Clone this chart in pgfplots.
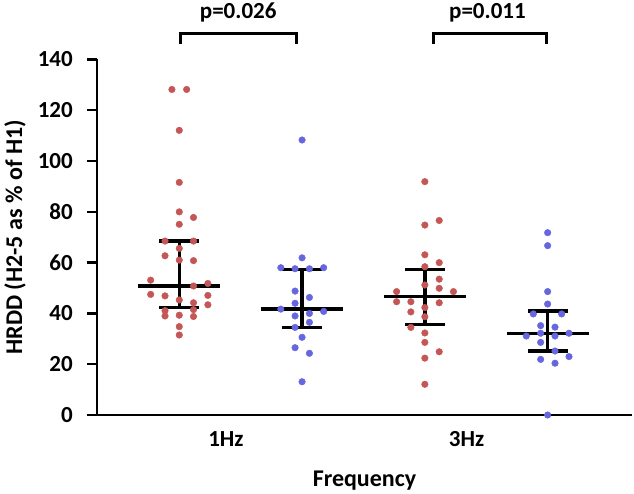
\documentclass[border=0pt]{standalone}
\usepackage{pgfplots}
\pgfplotsset{compat=1.18}
\usepackage{fontspec}
\setmainfont{Carlito}
\definecolor{cred}{RGB}{196,86,86}
\definecolor{cblue}{RGB}{102,102,222}
\newcommand{\tlf}{\fontsize{23}{23}\selectfont\bfseries}
\begin{document}
\begin{tikzpicture}
\begin{axis}[name=ax,
  scale only axis, width=535pt, height=355.5pt,
  xmin=-0.67, xmax=3.687, ymin=0, ymax=140,
  axis x line*=bottom, axis y line*=left,
  axis line style={line width=2.6pt, -},
  clip=false,
  ytick={0,20,...,140}, yticklabels={,,,,,,,},
  xtick={0.38,2.34}, xticklabels={,},
  x tick style={draw=none},
  y tick style={line width=2.4pt, black},
  tick align=outside, major tick length=10pt,
  label style={font=\fontsize{24}{24}\selectfont\bfseries},
  xlabel={Frequency}, ylabel={HRDD (H2-5 as \% of H1)},
  x label style={at={(rel axis cs:0.5,0)}, anchor=center, yshift=-66pt},
  y label style={at={(rel axis cs:0,0.5)}, anchor=center, yshift=82pt},
]
% Red 1Hz
\addplot[only marks, mark=*, mark size=3.3pt, mark options={draw=cred, fill=cred}] coordinates {
(-0.06,128.2) (0.06,128.2) (0,112.1) (0,91.6) (0,80.0) (0.116,77.8) (0,75.1)
(-0.116,68.5) (0.116,68.5) (0,65.6) (-0.116,62.7) (0,61.0) (0.116,60.8)
(-0.233,53.1) (0.233,51.8) (0.116,50.8) (-0.233,47.5) (-0.116,46.9) (0.233,47.1)
(0,45.3) (0.116,44.2) (0.233,43.4) (-0.116,41.1) (0.116,41.5) (-0.116,39.0)
(0,39.3) (0.116,38.8) (0,34.8) (0,31.5)
};
% Blue 1Hz
\addplot[only marks, mark=*, mark size=3.3pt, mark options={draw=cblue, fill=cblue}] coordinates {
(1,108.3) (1,61.9) (0.827,58.0) (0.943,57.6) (1.06,57.6) (1.176,58.0)
(0.943,48.8) (1.06,46.3) (0.943,44.0) (0.827,41.7) (1.176,40.8) (1.06,40.0)
(0.943,39.0) (1.06,36.5) (0.943,34.5) (1,30.6) (0.943,26.5) (1.06,24.3) (1,13.1)
};
% Red 3Hz
\addplot[only marks, mark=*, mark size=3.3pt, mark options={draw=cred, fill=cred}] coordinates {
(2,91.9) (2,74.8) (2.117,76.6) (2,63.1) (2.117,60.0) (2,58.4) (2.117,53.5)
(2,51.2) (2.117,49.9) (1.77,48.6) (2.233,48.6) (1.77,44.6) (1.886,44.6)
(2.117,44.2) (2,42.3) (1.886,40.6) (2,38.7) (1.886,34.5) (2,32.3) (2,28.6)
(2.117,24.9) (2,22.4) (2,12.1)
};
% Blue 3Hz
\addplot[only marks, mark=*, mark size=3.3pt, mark options={draw=cblue, fill=cblue}] coordinates {
(3,71.8) (3,66.7) (3,48.6) (3,43.7) (2.883,39.8) (3.114,39.8) (2.943,35.2)
(3.06,34.6) (2.826,31.1) (2.943,32.2) (3.06,31.1) (3.174,32.2) (2.943,28.6)
(3.06,25.2) (2.943,21.9) (3.174,23.0) (3.06,20.4) (3,0.0)
};
% medians and whiskers
\addplot[black, line width=3.3pt] coordinates {(-0.333,50.8) (0.333,50.8)};
\addplot[black, line width=3.3pt] coordinates {(-0.163,42.4) (0.163,42.4)};
\addplot[black, line width=3.3pt] coordinates {(-0.163,68.5) (0.163,68.5)};
\addplot[black, line width=3.3pt] coordinates {(0,42.4) (0,68.5)};
\addplot[black, line width=3.3pt] coordinates {(0.667,41.7) (1.333,41.7)};
\addplot[black, line width=3.3pt] coordinates {(0.837,34.5) (1.163,34.5)};
\addplot[black, line width=3.3pt] coordinates {(0.837,57.4) (1.163,57.4)};
\addplot[black, line width=3.3pt] coordinates {(1,34.5) (1,57.4)};
\addplot[black, line width=3.3pt] coordinates {(1.667,46.7) (2.333,46.7)};
\addplot[black, line width=3.3pt] coordinates {(1.837,35.6) (2.163,35.6)};
\addplot[black, line width=3.3pt] coordinates {(1.837,57.2) (2.163,57.2)};
\addplot[black, line width=3.3pt] coordinates {(2,35.6) (2,57.2)};
\addplot[black, line width=3.3pt] coordinates {(2.667,32.2) (3.333,32.2)};
\addplot[black, line width=3.3pt] coordinates {(2.837,25.2) (3.163,25.2)};
\addplot[black, line width=3.3pt] coordinates {(2.837,40.9) (3.163,40.9)};
\addplot[black, line width=3.3pt] coordinates {(3,25.2) (3,40.9)};
% brackets
\addplot[black, line width=2.6pt, line join=miter] coordinates {(0.01,146.2) (0.01,150.3) (0.955,150.3) (0.955,146.2)};
\addplot[black, line width=2.6pt, line join=miter] coordinates {(2.07,146.2) (2.07,150.3) (2.99,150.3) (2.99,146.2)};
\node[anchor=base, font=\tlf, inner sep=0pt] at (axis cs:0.48,156.2) {p=0.026};
\node[anchor=base, font=\tlf, inner sep=0pt] at (axis cs:2.51,156.2) {p=0.011};
% tick labels
\pgfplotsinvokeforeach{0,20,40,60,80,100,120,140}{
  \node[anchor=east, font=\tlf, inner sep=0pt, xshift=-24pt] at (axis cs:-0.67,#1) {#1};
}
\node[anchor=base, font=\tlf, inner sep=0pt, yshift=-31.7pt] at (axis cs:0.38,0) {1Hz};
\node[anchor=base, font=\tlf, inner sep=0pt, yshift=-31.7pt] at (axis cs:2.34,0) {3Hz};
\end{axis}
\pgfresetboundingbox
\path ([xshift=-97pt,yshift=-78pt]ax.south west) rectangle ([xshift=2pt,yshift=59.5pt]ax.north east);
\end{tikzpicture}
\end{document}
